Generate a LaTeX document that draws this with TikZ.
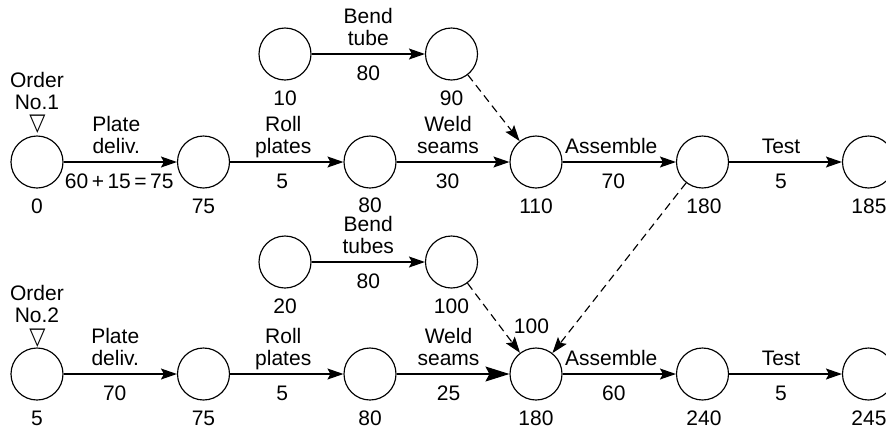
\documentclass[tikz,border=0pt]{standalone}
\usepackage{fontspec}
\setmainfont{Liberation Sans}
\newfontfamily\symfont{DejaVu Sans}
\usetikzlibrary{arrows.meta}
\newcommand\labfont{\fontsize{21}{22}\selectfont}
\begin{document}
\begin{tikzpicture}[x=1pt,y=-1pt,
  ev/.style={circle, draw, line width=1.15pt, minimum size=52pt, inner sep=0pt},
  arr/.style={line width=1.15pt, -{Stealth[length=16pt,width=11pt,inset=3pt]}},
  bigarr/.style={line width=1.15pt, -{Stealth[length=24pt,width=15pt,inset=4pt]}},
  dasharr/.style={arr, dash pattern=on 8pt off 5pt},
  up/.style={midway, anchor=south, inner sep=0pt, text depth=0pt, yshift=7.5pt, align=center, font=\labfont},
  dn/.style={midway, anchor=base, inner sep=0pt, yshift=-26pt, font=\labfont},
  num/.style={anchor=base, inner sep=0pt, font=\labfont},
  ordr/.style={anchor=south, inner sep=0pt, text depth=0pt, align=center, font=\labfont},
  tri/.style={inner sep=0pt, font=\symfont\fontsize{21}{21}\selectfont, yscale=1.15},
]
\useasboundingbox (0,0) rectangle (886,429);
\clip (0,0) rectangle (886,429);

% events
\foreach \n/\x in {0/37,1/203.5,2/370,3/536,4/702.5,5/868.5}{
  \node[ev] (a\n) at (\x,162) {};
  \node[ev] (b\n) at (\x,374) {};
}
\node[ev] (t1) at (285,54) {};
\node[ev] (t2) at (451.5,54) {};
\node[ev] (u1) at (285,262) {};
\node[ev] (u2) at (451.5,262) {};

% event times
\node[num] (na0) at (37,213) {0};
\node[num] (na1) at (203.5,213) {75};
\node[num] (na2) at (370,212) {80};
\node[num] (na3) at (536,213) {110};
\node[num] (na4) at (704,213) {180};
\node[num] (na5) at (869,213) {185};
\node[num] (nt1) at (285,105) {10};
\node[num] (nt2) at (451.5,105) {90};
\node[num] (nu1) at (285,313) {20};
\node[num] (nu2) at (451.5,313) {100};
\node[num] (nb0) at (37,425) {5};
\node[num] (nb1) at (203.5,425) {75};
\node[num] (nb2) at (370,425) {80};
\node[num] (nb3) at (536,425) {180};
\node[num] (nb4) at (704,425) {240};
\node[num] (nb5) at (869,425) {245};
\node[num] (nb3top) at (531.5,333) {100};

% orders
\node[ordr] (o1) at (37,110) {Order\\No.1};
\node[tri] (o1t) at (37.5,124.5) {▽};
\node[ordr] (o2) at (37,323) {Order\\No.2};
\node[tri] (o2t) at (37.5,338) {▽};

% order 1
\draw[arr] (a0) -- (a1) node[up,xshift=-4pt] (l01) {Plate\\deliv.} node[dn,xshift=-1pt] (d01) {60\,+\,15\,=\,75};
\draw[arr] (a1) -- (a2) node[up,xshift=-3.5pt] (l12) {Roll\\plates} node[dn,xshift=-4.5pt] (d12) {5};
\draw[arr] (a2) -- (a3) node[up,xshift=-5pt] (l23) {Weld\\seams} node[dn,xshift=-5.5pt] (d23) {30};
\draw[arr] (a3) -- (a4) node[up,xshift=-8pt] (l34) {Assemble} node[dn,xshift=-6pt] (d34) {70};
\draw[arr] (a4) -- (a5) node[up,xshift=-4.5pt] (l45) {Test} node[dn,xshift=-4.5pt] (d45) {5};
\draw[arr] (t1) -- (t2) node[up] (lt) {Bend\\tube} node[dn] (dt) {80};
\draw[dasharr] (t2) -- (a3);

% order 2
\draw[arr] (b0) -- (b1) node[up,xshift=-5pt] (m01) {Plate\\deliv.} node[dn,xshift=-5.5pt] (e01) {70};
\draw[arr] (b1) -- (b2) node[up,xshift=-3.5pt] (m12) {Roll\\plates} node[dn,xshift=-4.5pt] (e12) {5};
\draw[bigarr] (b2) -- (b3) node[up,xshift=-4.5pt] (m23) {Weld\\seams} node[dn,xshift=-4.5pt] (e23) {25};
\draw[arr] (b3) -- (b4) node[up,xshift=-8pt] (m34) {Assemble} node[dn,xshift=-5.5pt] (e34) {60};
\draw[arr] (b4) -- (b5) node[up,xshift=-4.5pt] (m45) {Test} node[dn,xshift=-4.5pt] (e45) {5};
\draw[arr] (u1) -- (u2) node[up] (mu) {Bend\\tubes} node[dn] (eu) {80};
\draw[dasharr] (u2) -- (b3);
\draw[dasharr] (a4) -- (b3);
\end{tikzpicture}
\end{document}
